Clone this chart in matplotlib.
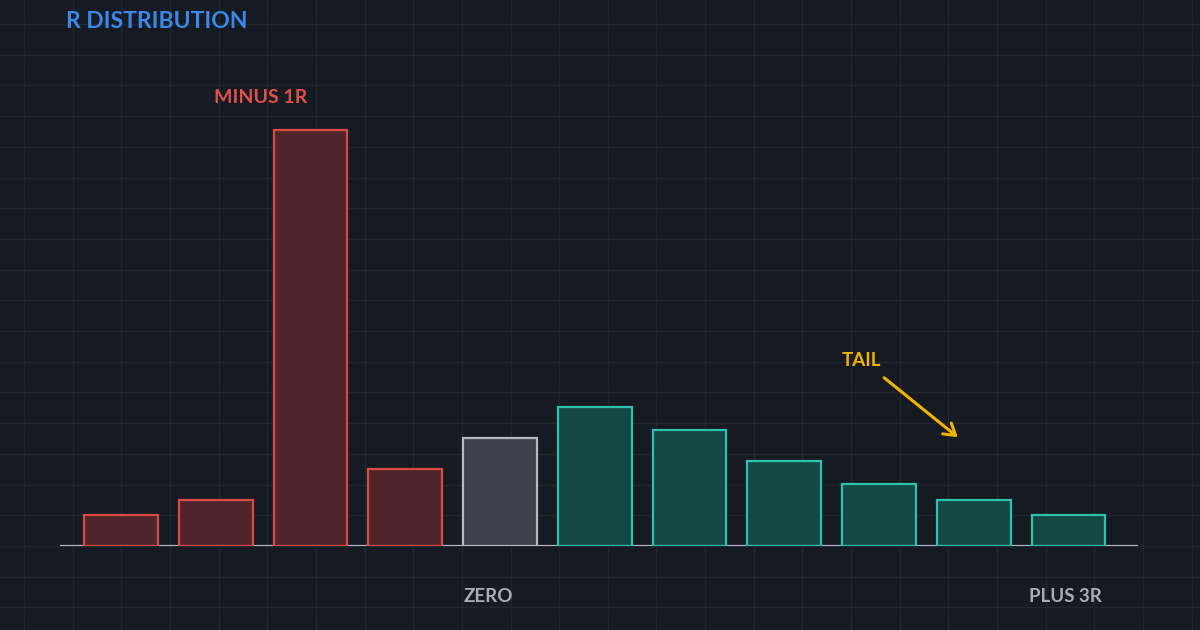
import matplotlib.pyplot as plt
import numpy as np

plt.rcParams["font.family"] = ["Lato", "DejaVu Sans"]

# R-multiple bins (step 0.5R) and trade counts per bin
r_values = [-2.0, -1.5, -1.0, -0.5, 0.0, 0.5, 1.0, 1.5, 2.0, 2.5, 3.0]
counts = [2, 3, 27, 5, 7, 9, 7.5, 5.5, 4, 3, 2]
bin_labels = {-1.0: "MINUS 1R", 0.0: "ZERO", 3.0: "PLUS 3R"}

BG = "#151a23"
GRID = "#20252f"
RED_EDGE, RED_FILL = "#dc4a44", "#4f252b"
GRAY_EDGE, GRAY_FILL = "#b4b8c0", "#3c414b"
TEAL_EDGE, TEAL_FILL = "#2cc2ab", "#134844"

W, H = 1200, 630


def px(x, y):
    """pixel position (from top-left) -> figure fraction"""
    return x / W, 1 - y / H


fig = plt.figure(figsize=(12, 6.3), dpi=100, facecolor=BG)

# background grid, drawn in pixel space
bg = fig.add_axes([0, 0, 1, 1], zorder=0)
bg.set_xlim(0, W)
bg.set_ylim(H, 0)
bg.set_facecolor(BG)
bg.axis("off")
for gx in np.arange(24, W, 48.65):
    bg.axvline(gx, color=GRID, lw=1.0)
for gy in np.arange(546 - 30.7 * 18, H, 30.7):
    bg.axhline(gy, color=GRID, lw=1.0)

ax = fig.add_axes([60 / W, 84 / H, 1078 / W, 462.3 / H], zorder=1)
ax.set_facecolor("none")
ax.set_xlim(-2.322, 3.367)
ax.set_ylim(0, 30)
ax.axis("off")
ax.axhline(0, color="#b4b8c0", lw=1.6, zorder=1)

edges, fills = [], []
for r in r_values:
    if r < 0:
        edges.append(RED_EDGE); fills.append(RED_FILL)
    elif r == 0:
        edges.append(GRAY_EDGE); fills.append(GRAY_FILL)
    else:
        edges.append(TEAL_EDGE); fills.append(TEAL_FILL)

ax.bar(r_values, counts, width=0.39, color=fills, edgecolor=edges,
       linewidth=1.6, zorder=2)

# category labels
ax.annotate(bin_labels[-1.0], xy=(-1.0, counts[2]), xytext=(-50, 32),
            textcoords="offset pixels", ha="center", va="center",
            color="#e0504a", fontsize=14, fontweight="bold")
ax.annotate(bin_labels[0.0], xy=(0.0, 0), xytext=(-12, -51),
            textcoords="offset pixels", ha="center", va="center",
            color="#a8acb4", fontsize=13.5, fontweight="bold")
ax.annotate(bin_labels[3.0], xy=(3.0, 0), xytext=(-3, -51),
            textcoords="offset pixels", ha="center", va="center",
            color="#a8acb4", fontsize=13.5, fontweight="bold")

fig.text(*px(66, 22), "R DISTRIBUTION", ha="left", va="center",
         color="#3a88ea", fontsize=16.5, fontweight="bold")

fig.text(*px(862, 360), "TAIL", ha="center", va="center",
         color="#f0b400", fontsize=13.5, fontweight="bold")
ax.annotate("", xy=px(960, 439), xycoords="figure fraction",
            xytext=px(882, 376), textcoords="figure fraction",
            arrowprops=dict(arrowstyle="->,head_length=0.8,head_width=0.5",
                            color="#f0b400", lw=2.2))

fig.savefig("out.png", dpi=100, facecolor=BG)
